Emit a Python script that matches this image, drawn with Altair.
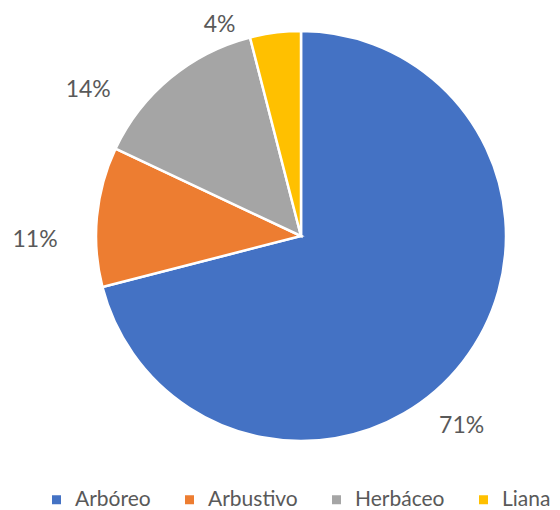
import altair as alt
import pandas as pd

categories = ["Arbóreo", "Arbustivo", "Herbáceo", "Liana"]
values = [71, 11, 14, 4]
labels = ["71%", "11%", "14%", "4%"]
colors = ["#4472C4", "#ED7D31", "#A5A5A5", "#FFC000"]

# label nudges (pixels) away from the mid-angle position, mimicking best-fit placement
nudges = {"71%": (-25, 46), "11%": (-32, 26), "14%": (-63, 35), "4%": (-52, 22)}

total = sum(values)
df = pd.DataFrame({"cat": categories, "val": values, "label": labels, "ord": list(range(len(categories)))})

pie = alt.Chart(df).mark_arc(outerRadius=205, stroke="white", strokeWidth=2.5).encode(
    theta=alt.Theta("val:Q", stack=True),
    order=alt.Order("ord:Q"),
    color=alt.Color(
        "cat:N",
        scale=alt.Scale(domain=categories, range=colors),
        sort=categories,
        legend=alt.Legend(
            title=None,
            orient="none",
            direction="horizontal",
            legendX=-45,
            legendY=463,
            padding=0,
            symbolType="square",
            symbolSize=81,
            symbolStrokeWidth=0,
            labelFont="Lato",
            labelFontSize=21,
            labelColor="#595959",
            labelOffset=8,
            columnPadding=28,
        ),
    ),
)

lab_base = (
    alt.Chart(df)
    .transform_window(cum="sum(val)", sort=[alt.SortField("ord")], frame=[None, 0])
    .transform_calculate(mid="datum.cum - datum.val / 2")
)

layers = [pie]
for lab in labels:
    dx, dy = nudges[lab]
    layers.append(
        lab_base.transform_filter(alt.datum.label == lab)
        .mark_text(radius=235, font="Lato", fontSize=23, color="#595959", dx=dx, dy=dy)
        .encode(
            theta=alt.Theta("mid:Q", stack=None, scale=alt.Scale(domain=[0, total])),
            text="label:N",
        )
    )

chart = alt.layer(*layers).properties(
    width=420,
    height=420,
    padding={"left": 83, "top": 18, "right": 41, "bottom": 64},
    autosize=alt.AutoSizeParams(type="none"),
).configure_view(stroke=None).configure(background="white")

chart.save("out.html", embed_options={"renderer": "svg", "actions": False})
